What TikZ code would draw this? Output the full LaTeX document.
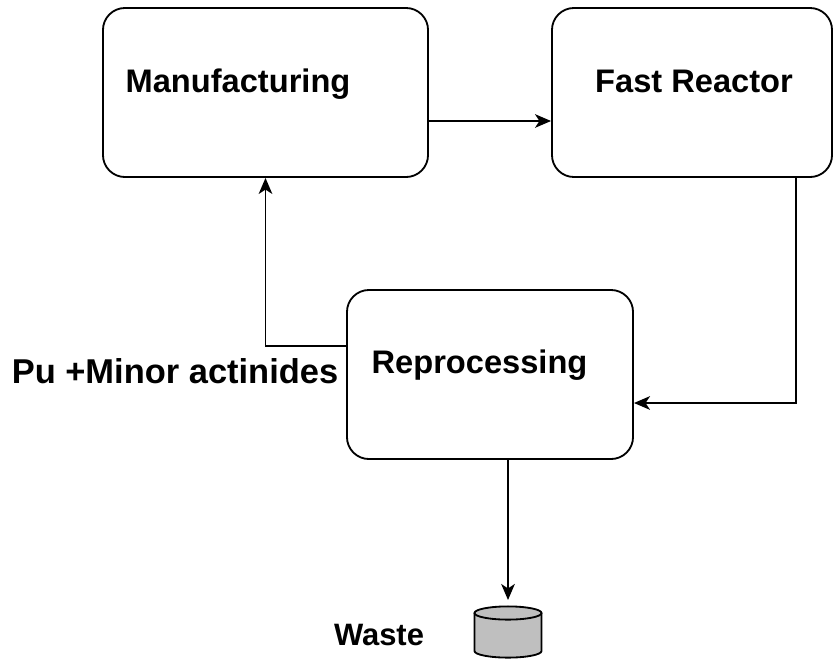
\documentclass[tikz,border=0pt]{standalone}
\usepackage{xcolor}
\usepackage{fontspec}
\setmainfont{Liberation Sans}
\usepackage{tikz}
\usetikzlibrary{arrows.meta}

\begin{document}
\begin{tikzpicture}[x=0.025cm, y=-0.025cm,
    box/.style={draw, rectangle, rounded corners=0.55cm, line width=1.3pt, minimum height=4.225cm},
    lbl/.style={anchor=base, inner sep=0pt, font=\fontsize{23.2}{28}\selectfont\bfseries},
    arr/.style={-{Stealth[length=0.4cm, width=0.34cm, inset=0.11cm]}, line width=1.3pt},
    tank/.style={draw, fill=black!25, line width=1.3pt}]
    \useasboundingbox (0,0) rectangle (835,660);

    % Manufacturing
    \node[box, minimum width=8.125cm] (manu) at (265.5,92.5) {};
    \node[lbl] (manutxt) at (238,92) {Manufacturing};

    % Fast Reactor
    \node[box, minimum width=7.0cm] (reactor) at (692,92.5) {};
    \node[lbl] (reactortxt) at (694,92) {Fast Reactor};

    % Reprocessing
    \node[box, minimum width=7.15cm] (repro) at (490,374.5) {};
    \node[lbl] (reprotxt) at (479.5,373) {Reprocessing};
    \node[lbl, font=\fontsize{24.5}{29}\selectfont\bfseries] (putxt) at (175,383) {Pu +Minor actinides};

    % Waste
    \coordinate (waste) at (508,600);
    \draw[tank] (474.5,613) -- (474.5,651) arc[start angle=180, end angle=360, x radius=0.8375cm, y radius=0.165cm] -- (541.5,613);
    \draw[tank] (508,613) ellipse[x radius=0.8375cm, y radius=0.165cm];
    \node[lbl, font=\fontsize{22}{26}\selectfont\bfseries] (wastetxt) at (379,645) {Waste};

    % connectors
    \draw[arr] (manu.east |- 0,121) -- (reactor.west |- 0,121);
    \draw[arr] (reactor.south -| 796,0) |- (repro.east |- 0,403);
    \draw[arr] (repro.west |- 0,346) -| (manu.south);
    \draw[arr] (repro.south -| 508,0) -- (waste);
\end{tikzpicture}
\end{document}
